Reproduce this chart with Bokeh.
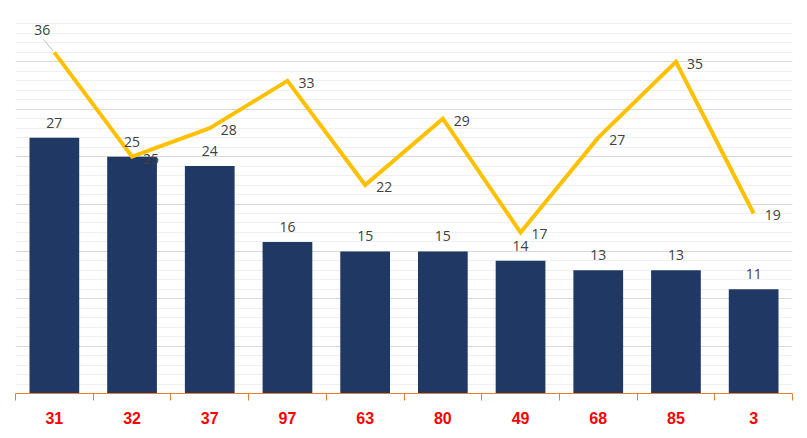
from bokeh.plotting import figure
from bokeh.models import (ColumnDataSource, Range1d, FixedTicker, SingleIntervalTicker, LabelSet)
from bokeh.core.properties import value
from bokeh.embed import file_html
from bokeh.resources import INLINE

categories = ["31", "32", "37", "97", "63", "80", "49", "68", "85", "3"]
bar_values = [27, 25, 24, 16, 15, 15, 14, 13, 13, 11]
line_values = [36, 25, 28, 33, 22, 29, 17, 27, 35, 19]

n = len(categories)
xs = [i + 0.5 for i in range(n)]

src = ColumnDataSource(dict(
    x=xs, bar=bar_values, line=line_values,
    bar_txt=[str(v) for v in bar_values],
    line_txt=[str(v) for v in line_values],
))

p = figure(width=807, height=438, output_backend="svg", toolbar_location=None,
           x_range=Range1d(0, n), y_range=Range1d(0, 40),
           y_axis_location=None)
p.min_border_left = 15
p.min_border_right = 15
p.min_border_top = 14
p.min_border_bottom = 45
p.outline_line_color = None
p.background_fill_color = "white"
p.border_fill_color = "white"

p.xgrid.grid_line_color = None
p.ygrid.ticker = SingleIntervalTicker(interval=5, num_minor_ticks=5)
p.ygrid.grid_line_color = "#D9D9D9"
p.ygrid.grid_line_width = 1
p.ygrid.minor_grid_line_color = "#F0F0F0"
p.ygrid.minor_grid_line_width = 1

p.vbar(x="x", top="bar", width=0.64, bottom=0, source=src,
       fill_color="#203864", line_color=None)
p.line(x="x", y="line", source=src, line_color="#FFC000", line_width=4,
       line_join="miter")

font = value("Open Sans")
bar_labels = LabelSet(x="x", y="bar", text="bar_txt", source=src,
                      text_align="center", text_baseline="bottom", y_offset=10,
                      text_font=font, text_font_size="14px", text_color="#404040")
p.add_layout(bar_labels)

# line labels: first one above-left with leader, others to the right
src_first = ColumnDataSource(dict(x=xs[:1], y=line_values[:1], t=[str(line_values[0])]))
src_rest = ColumnDataSource(dict(x=xs[1:], y=line_values[1:], t=[str(v) for v in line_values[1:]]))
p.add_layout(LabelSet(x="x", y="y", text="t", source=src_rest,
                      text_align="left", text_baseline="middle", x_offset=11, y_offset=-2,
                      text_font=font, text_font_size="14px", text_color="#404040"))
p.add_layout(LabelSet(x="x", y="y", text="t", source=src_first,
                      text_align="center", text_baseline="middle", x_offset=-12, y_offset=22,
                      text_font=font, text_font_size="14px", text_color="#404040"))
# leader line for the first label
px_per_x = 777 / n
px_per_y = 379 / 40
p.segment(x0=[xs[0] - 11 / px_per_x], y0=[line_values[0] + 13 / px_per_y],
          x1=[xs[0] - 1 / px_per_x], y1=[line_values[0] + 1 / px_per_y],
          line_color="#BFBFBF", line_width=1)

ax = p.xaxis[0]
ax.ticker = FixedTicker(ticks=xs, minor_ticks=list(range(n + 1)))
ax.major_label_overrides = {x: c for x, c in zip(xs, categories)}
ax.axis_line_color = "#ED7D31"
ax.axis_line_width = 1
ax.major_tick_line_color = None
ax.major_tick_out = 0
ax.major_tick_in = 0
ax.minor_tick_line_color = "#ED7D31"
ax.minor_tick_out = 7
ax.minor_tick_in = 0
ax.major_label_standoff = 11
ax.major_label_text_color = "#FF0000"
ax.major_label_text_font = "Liberation Sans"
ax.major_label_text_font_style = "bold"
ax.major_label_text_font_size = "16px"

open("out.html", "w").write(file_html(p, INLINE))
